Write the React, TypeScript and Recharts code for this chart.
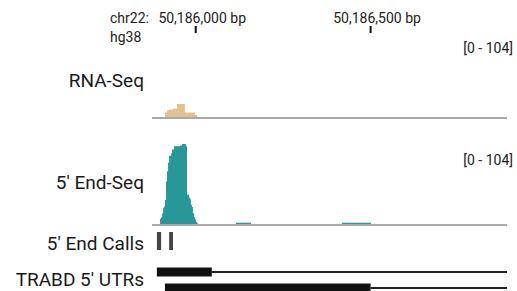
import React from "react";
import {
  ComposedChart,
  Area,
  XAxis,
  YAxis,
  ReferenceLine,
} from "recharts";

// genomic window shown (chr22, hg38)
const X_MIN = 50185875;
const X_MAX = 50186890;
const rulerTicks = [50186000, 50186500];
const RANGE_MAX = 104;

// RNA-Seq coverage (step starts)
const rnaPos = [50185912, 50185918, 50185924, 50185935, 50185946, 50185969, 50185998, 50186004, 50186007];
const rnaVal = [7, 10, 11, 12, 18, 7, 4, 1, 0];

// 5' End-Seq coverage (step starts)
const endPos = [
  50185898, 50185901, 50185904, 50185907, 50185910, 50185912, 50185915, 50185918,
  50185921, 50185924, 50185930, 50185932, 50185938, 50185955, 50185961, 50185972,
  50185975, 50185981, 50185984, 50185986, 50185989, 50185992, 50185995, 50185998,
  50186001, 50186004, 50186007, 50186010, 50186115, 50186158, 50186418, 50186501,
];
const endVal = [
  8, 10, 15, 22, 24, 32, 56, 69,
  80, 89, 92, 97, 101, 102, 104, 101,
  39, 35, 33, 26, 23, 15, 10, 7,
  4, 2, 1, 0, 3, 0, 3, 0,
];

// 5' end calls
const callStart = [50185889, 50185924];
const callEnd = [50185901, 50185935];

// TRABD 5' UTR transcripts
const utrThickStart = [50185889, 50185912];
const utrThickEnd = [50186046, 50186500];
const utrEnd = [50186890, 50186890];

const rnaData = rnaPos.map((pos, i) => ({ pos, v: rnaVal[i] }));
const endData = endPos.map((pos, i) => ({ pos, v: endVal[i] }));

const FONT = "Roboto, sans-serif";
const MARGIN = { top: 7, right: 10, bottom: 2, left: 152 };

const hiddenX = (
  <XAxis type="number" dataKey="pos" domain={[X_MIN, X_MAX]} hide allowDataOverflow />
);

function RulerTick(props: any) {
  const { x, payload } = props;
  return (
    <g>
      <text x={x + 6.5} y={23} textAnchor="middle" fontSize={14} fontFamily={FONT} fill="#222">
        {payload.value.toLocaleString("en-US")} bp
      </text>
      <rect x={x - 1} y={26} width={2} height={7} fill="#111" />
    </g>
  );
}

function CoverageTrack({ data, color, top }: { data: any[]; color: string; top: number }) {
  return (
    <div style={{ position: "absolute", left: 0, top }}>
      <ComposedChart width={517} height={90} data={data} margin={MARGIN}>
        {hiddenX}
        <YAxis hide domain={[0, RANGE_MAX]} allowDataOverflow />
        <ReferenceLine y={0} stroke="#a9a9a9" strokeWidth={2} />
        <Area
          type="stepAfter"
          dataKey="v"
          stroke="none"
          fill={color}
          fillOpacity={1}
          isAnimationActive={false}
        />
      </ComposedChart>
    </div>
  );
}

const labels = [
  { text: "RNA-Seq", y: 87 },
  { text: "5' End-Seq", y: 189 },
  { text: "5' End Calls", y: 250 },
  { text: "TRABD 5' UTRs", y: 286 },
];

export default function App() {
  return (
    <div style={{ position: "absolute", left: 0, top: 0, width: 517, height: 291, overflow: "hidden", background: "#fff" }}>
      {/* ruler */}
      <div style={{ position: "absolute", left: 0, top: 0 }}>
        <ComposedChart
          width={517}
          height={40}
          data={rulerTicks.map((pos) => ({ pos }))}
          margin={{ top: 0, right: 10, bottom: 0, left: 152 }}
        >
          <XAxis
            type="number"
            dataKey="pos"
            orientation="top"
            domain={[X_MIN, X_MAX]}
            ticks={rulerTicks}
            height={34}
            axisLine={false}
            tickLine={false}
            tick={<RulerTick />}
            interval={0}
          />
        </ComposedChart>
      </div>

      <CoverageTrack data={rnaData} color="#e3c28f" top={30} />
      <CoverageTrack data={endData} color="#279797" top={137} />

      {/* 5' end calls */}
      <div style={{ position: "absolute", left: 0, top: 232 }}>
        <ComposedChart width={517} height={18} data={endData} margin={{ top: 0, right: 10, bottom: 0, left: 152 }}>
          {hiddenX}
          <YAxis hide domain={[0, 1]} />
          {callStart.map((s, i) => (
            <ReferenceLine
              key={i}
              segment={[{ x: s, y: 0.5 }, { x: callEnd[i], y: 0.5 }]}
              stroke="#454545"
              strokeWidth={18}
              ifOverflow="extendDomain"
            />
          ))}
        </ComposedChart>
      </div>

      {/* UTR transcripts */}
      <div style={{ position: "absolute", left: 0, top: 264 }}>
        <ComposedChart width={517} height={32} data={endData} margin={{ top: 0, right: 10, bottom: 0, left: 152 }}>
          {hiddenX}
          <YAxis hide domain={[0, 2]} reversed />
          {utrThickStart.map((s, i) => (
            <ReferenceLine
              key={"thin" + i}
              segment={[{ x: utrThickEnd[i], y: i + 0.5 }, { x: utrEnd[i], y: i + 0.5 }]}
              stroke="#222"
              strokeWidth={2}
              ifOverflow="extendDomain"
            />
          ))}
          {utrThickStart.map((s, i) => (
            <ReferenceLine
              key={"thick" + i}
              segment={[{ x: s, y: i + 0.5 }, { x: utrThickEnd[i], y: i + 0.5 }]}
              stroke="#111"
              strokeWidth={9}
              ifOverflow="extendDomain"
            />
          ))}
        </ComposedChart>
      </div>

      <svg width={517} height={291} style={{ position: "absolute", left: 0, top: 0, pointerEvents: "none" }}>
        <text x={110} y={23} fontSize={14} fontFamily={FONT} fill="#222">chr22:</text>
        <text x={110} y={42} fontSize={14} fontFamily={FONT} fill="#222">hg38</text>
        <text x={513} y={53} fontSize={14} fontFamily={FONT} fill="#222" textAnchor="end">[0 - {RANGE_MAX}]</text>
        <text x={513} y={165} fontSize={14} fontFamily={FONT} fill="#222" textAnchor="end">[0 - {RANGE_MAX}]</text>
        {labels.map((l) => (
          <text key={l.text} x={144} y={l.y} fontSize={19} fontFamily={FONT} fill="#1a1a1a" textAnchor="end">
            {l.text}
          </text>
        ))}
      </svg>
    </div>
  );
}
